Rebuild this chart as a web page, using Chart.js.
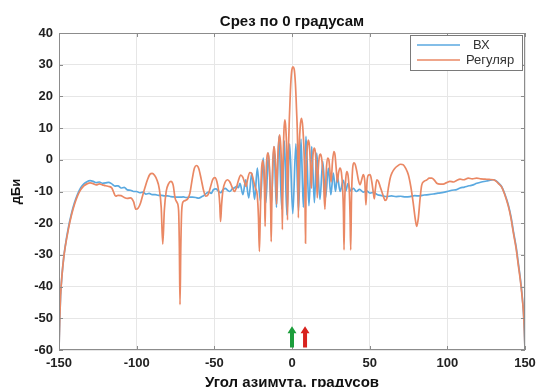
<!DOCTYPE html>
<html>
<head>
<meta charset="utf-8">
<script src="https://cdn.jsdelivr.net/npm/chart.js@4"></script>
<style>
  body { margin: 0; background: #fff; }
  canvas { display: block; }
</style>
</head>
<body>
<canvas id="chart" width="537" height="387"></canvas>
<script>
// values: azimuth angle (deg) and gain (dBi)
const seriesNames = ['ВХ', 'Регуляр']

const bxAngles = [
  -150, -149.5, -149, -148, -147, -146, -144, -142, -140, -138, -136, -134, -132, -130, -128, -126, -124, -122, -120, -118,
  -116, -114, -112, -110, -108, -106, -104, -102, -100, -98, -96, -94, -92, -90, -88, -86, -84, -82, -80, -78,
  -76, -74, -72, -70, -68, -66, -64, -62, -60, -58, -56.5, -55, -53.5, -52, -50.7, -49, -47.5, -46, -44.5, -43,
  -41.5, -40, -38.5, -37, -35.6, -34.5, -33.5, -31.6, -29.8, -27.8, -25.9, -24.1, -22.3, -20.4, -18.5, -16.8, -15.2, -13.4, -11.6, -10,
  -8.4, -6.6, -4.9, -3.3, -1.5, 0.5, 2.5, 4.2, 5.8, 7.3, 9, 10.9, 12.7, 14.4, 15.9, 18, 19.8, 21.6, 23.4, 25,
  26.6, 28, 29.2, 31, 33, 34.6, 36, 37.8, 39.5, 41.5, 43.5, 45.9, 48, 50.2, 52.5, 55, 58, 61, 64, 67,
  70, 73, 76, 79, 82, 85, 88, 91, 94, 97.4, 100, 103, 106, 108.2, 111, 114, 116, 119, 122, 125.3,
  127.5, 129.6, 131.5, 133.5, 135, 137, 139.3, 141, 142.5, 144.3, 145.8, 147, 148, 149, 149.6, 150
]
const bxValues = [
  -60, -50, -43, -36, -31, -27.3, -21.5, -17, -13.5, -10.8, -8.8, -7.6, -6.9, -6.6, -6.8, -7.2, -7, -7.4, -7.3, -7.1,
  -7.6, -8.3, -8.2, -8.9, -8.7, -9.5, -9.6, -10, -10, -10.4, -10.2, -10.8, -10.6, -11, -11, -11.2, -11.2, -11.4, -11.4, -11.6,
  -11.7, -11.8, -11.8, -11.7, -11.9, -11.8, -11.8, -11.9, -12.1, -11.6, -11.2, -10.5, -10.2, -10.6, -9.5, -9.2, -9.8, -10.4, -9.5, -9,
  -9.6, -10, -9.2, -8.8, -8.4, -8.8, -7.4, -11, -6.3, -12, -4.2, -12.5, -2.6, -13, 0.5, -13.5, 2.1, -14.5, 4.2, -15,
  7.4, -15.5, 6, -17.4, 5, -17, 5, -16, 6.5, -15, 7.4, -14.5, 4.2, -13.5, 2.1, -12.5, -0.5, -12, -2.6, -11,
  -4.2, -10, -5.3, -10, -6.5, -9.8, -7.5, -9.8, -9, -10, -9.3, -10.2, -9.8, -10.5, -10.3, -11, -11.3, -11.6, -11.4, -11.6,
  -11.5, -11.7, -11.6, -11.3, -11.4, -11.1, -11, -10.8, -10.5, -10.3, -10, -9.6, -9.4, -8.9, -8.6, -8.2, -8, -7.4, -7, -6.7,
  -6.4, -6.3, -6.7, -7.6, -8.5, -10.8, -14.3, -18, -22.5, -27.5, -33, -37.5, -42, -48, -54, -60
]

const regAngles = [
  -150, -149.5, -149, -148, -147, -146, -144, -142, -140, -138, -136, -134, -132, -130, -128, -126, -124, -122, -120, -118,
  -116, -115, -113.5, -112, -110, -108, -106, -104, -102, -100.5, -99, -97.5, -96, -94.5, -93, -91.5, -90, -88.5, -87, -85.5,
  -84.2, -83.2, -82.2, -81, -79.5, -78, -76.5, -75.3, -74, -73, -72.5, -72.1, -71.6, -71, -70, -68.5, -67, -65.7, -64.2, -62.8,
  -61.4, -60, -58.5, -57, -55.5, -54, -52.6, -51, -49.6, -48.3, -47.2, -46.5, -46, -45.3, -44.4, -43, -41.5, -40, -38.6, -37,
  -35.8, -34.5, -33, -31.7, -30.3, -29.6, -28.5, -27.2, -26, -24.8, -23.5, -22.4, -21.6, -21, -20.4, -19.7, -18.9, -18.1, -17.6, -17.3,
  -17, -16.4, -15.6, -14.8, -14.1, -13.7, -13.4, -13, -12.4, -11.6, -10.9, -10.3, -9.9, -9.5, -8.8, -8, -7.2, -6.6, -6.2, -5.8,
  -5.2, -4.6, -4, -3.3, -2.9, -2.4, -1.7, -1, -0.3, 0.6, 1.4, 2.2, 2.9, 3.6, 4.1, 4.6, 5.3, 6.1, 6.9, 7.7,
  8.3, 8.7, 9.1, 9.8, 10.5, 11.2, 11.9, 12.5, 13, 13.7, 14.4, 15.1, 15.8, 16.3, 16.8, 17.6, 18.4, 19.2, 20.2, 21.2,
  22, 22.9, 23.7, 24.5, 25.2, 26, 26.9, 27.7, 28.5, 29.2, 30, 30.9, 31.8, 32.6, 33.1, 33.5, 33.9, 34.6, 35.3, 36.1,
  36.9, 37.4, 37.8, 38.3, 39, 39.8, 40.7, 41.7, 42.8, 43.8, 44.9, 45.9, 46.9, 47.6, 48.3, 49.3, 50.3, 51.4, 52.4, 53,
  53.6, 54.6, 55.6, 56.7, 57.8, 58.8, 60, 61, 62, 63.2, 64.5, 66, 68, 70, 71.7, 73.3, 74.9, 76.5, 78, 79.3,
  80.3, 81.3, 82.5, 83.5, 85, 86.7, 88.3, 90, 91.6, 93.2, 95.3, 97.4, 99.5, 101.7, 104, 106, 108.2, 110.5, 113.5, 116,
  118.9, 121.5, 124.3, 127, 129.6, 131.5, 133.5, 135, 137, 139.3, 141, 142.5, 144.3, 145.8, 147, 147.9, 149, 149.6, 150
]
const regValues = [
  -60, -50, -43, -36, -31, -27.5, -22, -17.5, -14, -11.3, -9.4, -8.2, -7.6, -7.3, -7.5, -7.9, -7.6, -7.9, -8.2, -8.4,
  -8.9, -10, -11.5, -11.2, -11.3, -11.9, -12.2, -12, -13.2, -15.6, -15.2, -13.6, -11, -8.5, -6.2, -4.6, -4.3, -4.9, -6.3, -9,
  -15, -26.6, -16, -10, -7.6, -6.8, -8, -12, -13.5, -16, -28, -45.7, -28, -16, -13.2, -12.8, -12.2, -10.5, -6, -2.6,
  -1.8, -2.8, -6, -9.5, -11.5, -11, -8.8, -6.2, -5.6, -7, -10, -14, -19.5, -14, -9.5, -7, -6.3, -7, -8.6, -10,
  -8.8, -6.5, -4.8, -5.5, -7.5, -8.4, -6, -4, -4.3, -6.5, -9, -11, -18, -28.9, -17, -4, -0.2, -4, -12, -21,
  -11, -1, 2.2, 0, -8, -16, -25.8, -14, -1, 4.2, 1.5, -6, -14, -5, 4, 7.9, 4, -6, -22, -3,
  9, 12.6, 10, 0, -19, 0, 13, 22, 27.5, 29.3, 28.6, 24, 16, 5, -18.3, 2, 10.5, 13.1, 10.5, 3,
  -8, -26.3, -5, 3.5, 6.2, 4.5, -2, -9, -2, 2.5, 3.7, 2, -5, -12, -4, 1, 1.8, 0, -6, -15.6,
  -4, 0.5, 0, -4, -7, -1, 2.6, 1.5, -3, -7, -4, -2.6, -4, -9, -16, -28.4, -14, -6, -3.7, -5,
  -10, -18, -28.4, -12, -3, -1, -1.5, -3.6, -6.5, -7.9, -6.2, -4.7, -7, -14.2, -7, -4.8, -4.7, -7, -10.5, -12.3,
  -9.5, -6.3, -6.8, -8.4, -10, -11.5, -12.8, -12.3, -9, -5.8, -4, -2.8, -1.9, -1.4, -1.6, -2.8, -4.7, -8.5, -13.5, -18.5,
  -21, -18.5, -12, -8, -6.8, -6.4, -5.8, -5.8, -6.4, -7.4, -7.7, -7.7, -7.2, -6.8, -7, -6.5, -6.1, -6.3, -5.8, -6,
  -5.8, -6, -6.1, -6.2, -6.3, -6.8, -7.8, -8.6, -11, -14.7, -18.5, -23, -28, -33.6, -38, -42, -48, -54, -60
]

const xTicks = [-150, -100, -50, 0, 50, 100, 150]
const yTicks = [-60, -50, -40, -30, -20, -10, 0, 10, 20, 30, 40]
// the two arrows under the main beam (angle, colour)
const markerAngles = [0, 8.4]
const markerColors = ['#1c9e3c', '#d8221e']

const blue = '#5aa9e0'
const orange = '#ea8864'
const fontFamily = 'Arial, "Liberation Sans", sans-serif'

function toPoints(angles, values) {
    return angles.map((a, i) => ({ x: a, y: values[i] }))
}

const framePlugin = {
    id: 'frame',
    afterDatasetsDraw(chart) {
        const { ctx, chartArea: a, scales } = chart
        ctx.save()
        // box round the plot, with inward ticks on all four sides
        ctx.strokeStyle = '#8c8c8c'
        ctx.lineWidth = 1
        ctx.strokeRect(a.left + 0.5, a.top + 0.5, a.right - a.left - 1, a.bottom - a.top - 1)
        ctx.beginPath()
        xTicks.forEach(v => {
            const px = Math.round(scales.x.getPixelForValue(v)) + 0.5
            ctx.moveTo(px, a.bottom); ctx.lineTo(px, a.bottom - 4)
            ctx.moveTo(px, a.top); ctx.lineTo(px, a.top + 4)
        })
        yTicks.forEach(v => {
            const py = Math.round(scales.y.getPixelForValue(v)) + 0.5
            ctx.moveTo(a.left, py); ctx.lineTo(a.left + 4, py)
            ctx.moveTo(a.right, py); ctx.lineTo(a.right - 4, py)
        })
        ctx.stroke()

        // arrows
        markerAngles.forEach((ang, i) => {
            const px = scales.x.getPixelForValue(ang)
            const top = scales.y.getPixelForValue(-52.5)
            const bot = scales.y.getPixelForValue(-59.2)
            ctx.fillStyle = markerColors[i]
            ctx.beginPath()
            ctx.moveTo(px, top)
            ctx.lineTo(px + 4.5, top + 7)
            ctx.lineTo(px + 2, top + 7)
            ctx.lineTo(px + 2, bot)
            ctx.lineTo(px - 2, bot)
            ctx.lineTo(px - 2, top + 7)
            ctx.lineTo(px - 4.5, top + 7)
            ctx.closePath()
            ctx.fill()
        })

        // legend box
        const lx = 410, ly = 35, lw = 112, lh = 35
        ctx.fillStyle = '#ffffff'
        ctx.fillRect(lx, ly, lw, lh)
        ctx.strokeStyle = '#7a7a7a'
        ctx.strokeRect(lx + 0.5, ly + 0.5, lw, lh)
        const textX = [473, 466]
        chart.data.datasets.forEach((ds, i) => {
            const y = ly + 10 + i * 15
            ctx.strokeStyle = ds.borderColor
            ctx.lineWidth = 1.6
            ctx.beginPath()
            ctx.moveTo(lx + 7, y)
            ctx.lineTo(lx + 50, y)
            ctx.stroke()
            ctx.fillStyle = '#333'
            ctx.font = '13px ' + fontFamily
            ctx.textBaseline = 'middle'
            ctx.textAlign = 'left'
            ctx.fillText(ds.label, textX[i], y)
        })
        ctx.restore()
    }
}

const ctx = document.getElementById('chart').getContext('2d')
new Chart(ctx, {
    type: 'line',
    data: {
        datasets: [
            {
                label: seriesNames[0],
                data: toPoints(bxAngles, bxValues),
                borderColor: blue,
                backgroundColor: blue,
                borderWidth: 1.7,
                pointRadius: 0,
                cubicInterpolationMode: 'monotone',
                order: 1
            },
            {
                label: seriesNames[1],
                data: toPoints(regAngles, regValues),
                borderColor: orange,
                backgroundColor: orange,
                borderWidth: 1.7,
                pointRadius: 0,
                cubicInterpolationMode: 'monotone',
                order: 0
            }
        ]
    },
    options: {
        responsive: false,
        animation: false,
        devicePixelRatio: 1,
        layout: { padding: { left: 0, right: 12, top: 0, bottom: 0 } },
        plugins: {
            legend: { display: false },
            tooltip: { enabled: false },
            title: {
                display: true,
                fullSize: false,
                text: 'Срез по 0 градусам',
                color: '#111',
                font: { family: fontFamily, size: 15, weight: 'bold', lineHeight: 1.2 },
                padding: { top: 13, bottom: 2 }
            }
        },
        scales: {
            x: {
                type: 'linear',
                min: -150,
                max: 150,
                afterFit: s => { s.height = 37; s.paddingLeft = 0; s.paddingRight = 0 },
                afterBuildTicks: s => { s.ticks = xTicks.map(v => ({ value: v })) },
                grid: { color: '#e6e6e6', drawTicks: false },
                border: { display: false },
                ticks: {
                    color: '#222',
                    padding: 6,
                    maxRotation: 0,
                    font: { family: fontFamily, size: 13, weight: 'bold' }
                },
                title: {
                    display: true,
                    text: 'Угол азимута, градусов',
                    color: '#111',
                    padding: { top: 0, bottom: -5 },
                    font: { family: fontFamily, size: 15, weight: 'bold', lineHeight: 1.2 }
                }
            },
            y: {
                min: -60,
                max: 40,
                afterFit: s => { s.width = 59; s.paddingTop = 0; s.paddingBottom = 0 },
                afterBuildTicks: s => { s.ticks = yTicks.map(v => ({ value: v })) },
                grid: { color: '#e6e6e6', drawTicks: false },
                border: { display: false },
                ticks: {
                    color: '#222',
                    padding: 6,
                    font: { family: fontFamily, size: 13, weight: 'bold' }
                },
                title: {
                    display: true,
                    text: 'дБи',
                    color: '#111',
                    padding: { top: 9, bottom: 0 },
                    font: { family: fontFamily, size: 13, weight: 'bold', lineHeight: 1.2 }
                }
            }
        }
    },
    plugins: [framePlugin]
})
</script>
</body>
</html>
